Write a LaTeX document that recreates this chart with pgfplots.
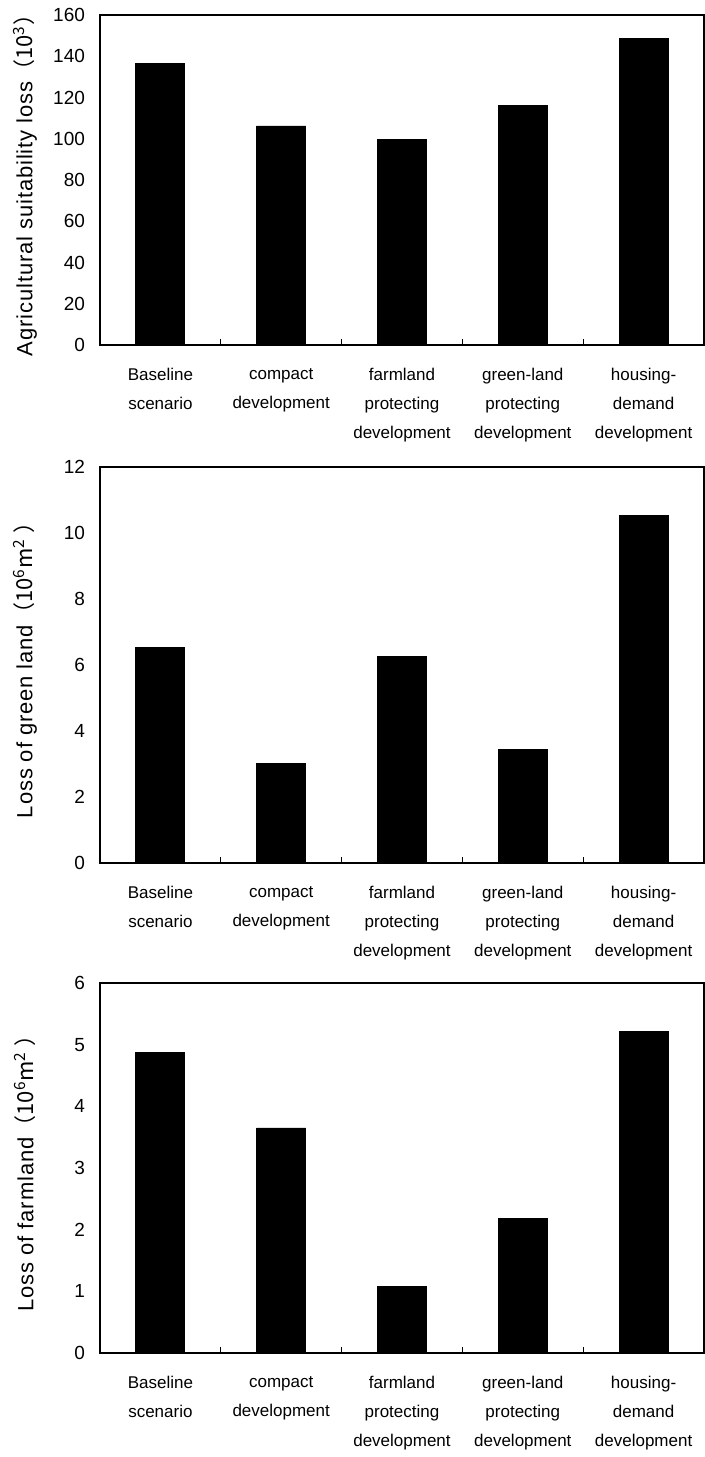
\documentclass[border=0pt]{standalone}
\usepackage{fontspec}
\setmainfont{Liberation Sans}
\newfontfamily\cjk{Noto Sans CJK SC}
\newfontfamily\spaced[LetterSpace=4]{Liberation Sans}
\usepackage{pgfplots}
\pgfplotsset{compat=1.18}
\pgfplotsset{
  panel/.style={
    ybar, bar width=24.5pt,
    scale only axis,
    width=302pt,
    xmin=-0.5, xmax=4.5,
    ymin=0,
    xtick={0,1,2,3,4},
    xticklabels={{Baseline\\scenario},{compact\\development},{farmland\\protecting\\development},{green-land\\protecting\\development},{housing-\\demand\\development}},
    minor xtick={0.5,1.5,2.5,3.5},
    major x tick style={draw=none},
    minor tick length=3pt,
    xtick pos=bottom,
    ytick pos=left,
    xtick align=inside,
    ytick align=inside,
    major y tick style={draw=none},
    axis line style={line width=0.6pt},
    every tick/.style={black, line width=0.6pt},
    /pgf/number format/assume math mode=true,
    yticklabel style={font=\fontsize{9.5}{11}\selectfont, xshift=-4pt},
    xticklabel style={font=\fontsize{8.5}{14.5}\selectfont, align=center, yshift=-8pt},
    every axis y label/.style={at={(axis description cs:-0.1242,0.5)}, rotate=90, anchor=center, font=\spaced\fontsize{11}{13}\selectfont},
  },
  blk/.style={fill=black, draw=black},
}
\begin{document}
\begin{tikzpicture}
\useasboundingbox (0,0) rectangle (352.5pt,-728.5pt);
\begin{axis}[panel, at={(50pt,-172.5pt)}, anchor=south west, height=165pt,
  ymax=160, ytick={0,20,...,160},
  ylabel={Agricultural suitability loss\cjk{（}10\textsuperscript{3}\cjk{）}}]
\addplot[blk] coordinates {(0,136.3) (1,106.2) (2,99.7) (3,116.2) (4,148.7)};
\end{axis}
\begin{axis}[panel, at={(50pt,-431.5pt)}, anchor=south west, height=198pt,
  ymax=12, ytick={0,2,...,12},
  ylabel={Loss of green land\cjk{（}10\textsuperscript{6}m\textsuperscript{2}\cjk{ ）}}]
\addplot[blk] coordinates {(0,6.52) (1,3.03) (2,6.26) (3,3.44) (4,10.52)};
\end{axis}
\begin{axis}[panel, at={(50pt,-676.5pt)}, anchor=south west, height=185pt,
  ymax=6, ytick={0,1,...,6},
  ylabel={Loss of farmland\cjk{（}10\textsuperscript{6}m\textsuperscript{2}\cjk{ ）}}]
\addplot[blk] coordinates {(0,4.88) (1,3.65) (2,1.08) (3,2.18) (4,5.21)};
\end{axis}
\end{tikzpicture}
\end{document}
